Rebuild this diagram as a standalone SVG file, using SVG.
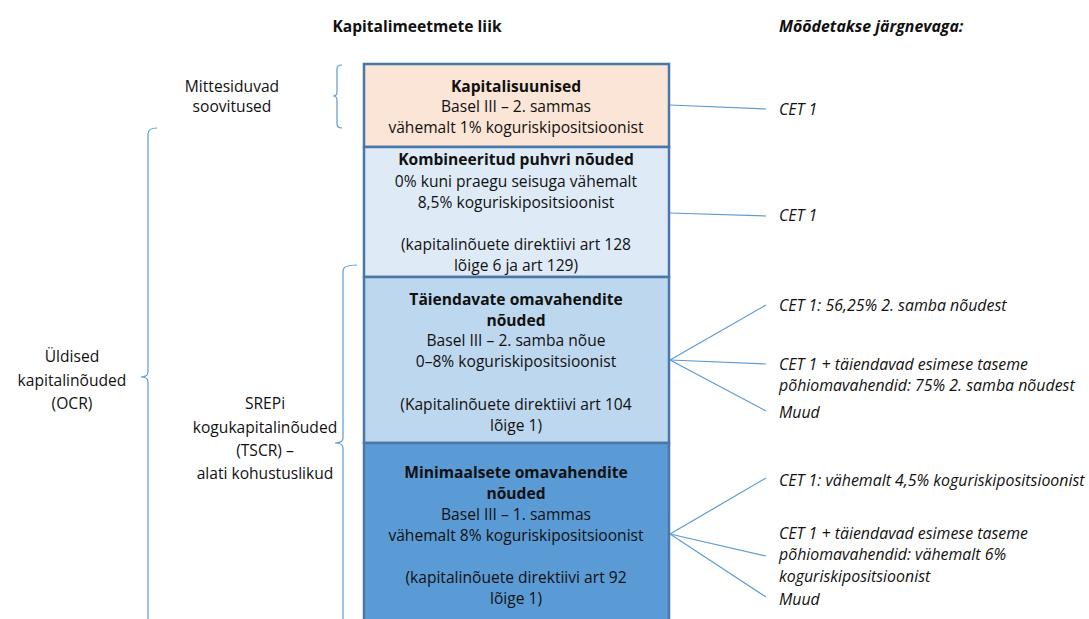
<svg xmlns="http://www.w3.org/2000/svg" width="1089" height="619" viewBox="0 0 1089 619">
<style>
text{font-family:"Open Sans","Liberation Sans",sans-serif;font-size:15.6px;fill:#111;}
.c{text-anchor:middle;}
.b{font-weight:bold;}
.i{font-style:italic;font-size:15.9px;}
.box{stroke:#4a76a8;stroke-width:2.5;}
.brace{fill:none;stroke:#5b9bd5;stroke-width:1.2;}
.conn line{stroke:#5b9bd5;stroke-width:1.2;}
</style>
<rect width="1089" height="619" fill="#fff"/>
<g id="headers">
<text class="c b" x="417" y="32">Kapitalimeetmete liik</text>
<text class="b i" x="779" y="32">Mõõdetakse järgnevaga:</text>
</g>
<g id="brace-mittesiduvad">
<path class="brace" d="M342,65 Q337,65 337,69 L337,92 Q337,96 333,96 Q337,96 337,100 L337,124 Q337,128 342,128"/>
<text class="c" x="232" y="92">Mittesiduvad</text>
<text class="c" x="232" y="112">soovitused</text>
</g>
<g id="brace-ocr">
<path class="brace" d="M157,128 Q148,128 148,134 L148,372 Q148,377 141,377 Q148,377 148,382 L148,625"/>
<text class="c" x="72" y="362">Üldised</text>
<text class="c" x="72" y="386">kapitalinõuded</text>
<text class="c" x="72" y="409">(OCR)</text>
</g>
<g id="brace-tscr">
<path class="brace" d="M357,265 Q343,265 343,271 L343,438 Q343,443 335,443 Q343,443 343,448 L343,625"/>
<text class="c" x="265" y="409">SREPi</text>
<text class="c" x="265" y="433">kogukapitalinõuded</text>
<text class="c" x="265" y="456">(TSCR) –</text>
<text class="c" x="265" y="479">alati kohustuslikud</text>
</g>
<g id="box-kapitalisuunised">
<rect class="box" x="364" y="64" width="305" height="83" fill="#fbe5d6"/>
<text class="c b" x="516" y="92">Kapitalisuunised</text>
<text class="c" x="516" y="112">Basel III – 2. sammas</text>
<text class="c" x="516" y="133">vähemalt 1% koguriskipositsioonist</text>
</g>
<g id="box-puhver">
<rect class="box" x="364" y="147" width="305" height="130" fill="#deebf7"/>
<text class="c b" x="516" y="165">Kombineeritud puhvri nõuded</text>
<text class="c" x="516" y="187">0% kuni praegu seisuga vähemalt</text>
<text class="c" x="516" y="208">8,5% koguriskipositsioonist</text>
<text class="c" x="516" y="250">(kapitalinõuete direktiivi art 128</text>
<text class="c" x="516" y="271">lõige 6 ja art 129)</text>
</g>
<g id="box-taiendavad">
<rect class="box" x="364" y="277" width="305" height="166" fill="#bdd7ee"/>
<text class="c b" x="516" y="305">Täiendavate omavahendite</text>
<text class="c b" x="516" y="326">nõuded</text>
<text class="c" x="516" y="346">Basel III – 2. samba nõue</text>
<text class="c" x="516" y="367">0–8% koguriskipositsioonist</text>
<text class="c" x="516" y="410">(Kapitalinõuete direktiivi art 104</text>
<text class="c" x="516" y="431">lõige 1)</text>
</g>
<g id="box-minimaalsed">
<rect class="box" x="364" y="443" width="305" height="185" fill="#5b9bd5"/>
<text class="c b" x="516" y="478">Minimaalsete omavahendite</text>
<text class="c b" x="516" y="499">nõuded</text>
<text class="c" x="516" y="520">Basel III – 1. sammas</text>
<text class="c" x="516" y="541">vähemalt 8% koguriskipositsioonist</text>
<text class="c" x="516" y="583">(kapitalinõuete direktiivi art 92</text>
<text class="c" x="516" y="604">lõige 1)</text>
</g>
<g id="connectors" class="conn">
<line x1="670" y1="105" x2="766" y2="109"/>
<line x1="670" y1="213" x2="766" y2="216"/>
<line x1="670" y1="360" x2="766" y2="305"/>
<line x1="670" y1="360" x2="766" y2="364"/>
<line x1="670" y1="360" x2="766" y2="411"/>
<line x1="670" y1="534" x2="766" y2="478"/>
<line x1="670" y1="534" x2="766" y2="556"/>
<line x1="670" y1="534" x2="766" y2="597"/>
</g>
<g id="labels">
<text class="i" x="779" y="115">CET 1</text>
<text class="i" x="779" y="221">CET 1</text>
<text class="i" x="779" y="311">CET 1: 56,25% 2. samba nõudest</text>
<text class="i" x="779" y="370">CET 1 + täiendavad esimese taseme</text>
<text class="i" x="779" y="391">põhiomavahendid: 75% 2. samba nõudest</text>
<text class="i" x="779" y="418">Muud</text>
<text class="i" x="779" y="486">CET 1: vähemalt 4,5% koguriskipositsioonist</text>
<text class="i" x="779" y="539">CET 1 + täiendavad esimese taseme</text>
<text class="i" x="779" y="560">põhiomavahendid: vähemalt 6%</text>
<text class="i" x="779" y="582">koguriskipositsioonist</text>
<text class="i" x="779" y="605">Muud</text>
</g>
</svg>
